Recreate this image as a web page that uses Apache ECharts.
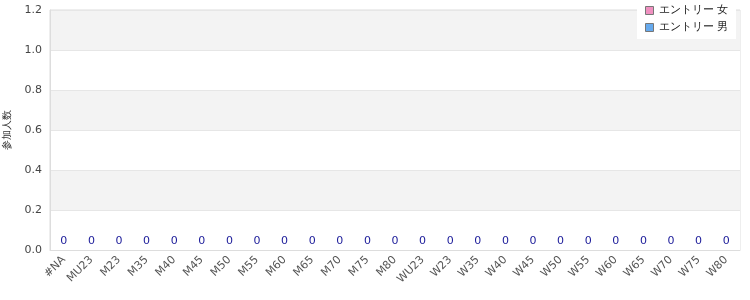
<!DOCTYPE html>
<html><head><meta charset="utf-8">
<script src="https://cdn.jsdelivr.net/npm/echarts@6/dist/echarts.min.js"></script>
<style>html,body{margin:0;padding:0;background:#fff}#c{width:750px;height:300px}</style>
</head><body><div id="c"></div>
<script>
const categories = ['#NA','MU23','M23','M35','M40','M45','M50','M55','M60','M65','M70','M75','M80','WU23','W23','W35','W40','W45','W50','W55','W60','W65','W70','W75','W80'];
const seriesNames = ['エントリー 女','エントリー 男'];
const valuesA = [0,0,0,0,0,0,0,0,0,0,0,0,0,0,0,0,0,0,0,0,0,0,0,0,0];
const valuesB = [0,0,0,0,0,0,0,0,0,0,0,0,0,0,0,0,0,0,0,0,0,0,0,0,0];
const yTicks = [0, 1.2, 0.2];
const yName = '参加人数';
const seriesColors = ['#f090c0','#66aaee'];

const chart = echarts.init(document.getElementById('c'), null, {renderer:'canvas'});
const font = 'DejaVu Sans, sans-serif';
chart.setOption({
  animation:false,
  grid:{left:50,right:10,top:10,bottom:50,containLabel:false,outerBoundsMode:'none',show:true,borderColor:'#ddd',borderWidth:1,backgroundColor:'transparent'},
  legend:{
    right:14, top:2, orient:'vertical', itemWidth:8, itemHeight:8, itemGap:6,
    backgroundColor:'#fff', padding:[3,8,6,8],
    textStyle:{fontSize:11,color:'#222',fontFamily:font},
    data:seriesNames.map((n,i)=>({name:n,icon:'rect',itemStyle:{color:seriesColors[i],borderColor:'#777',borderWidth:1}}))
  },
  xAxis:{
    type:'category', data:categories,
    axisLine:{show:true,lineStyle:{color:'#ddd'}}, axisTick:{show:false},
    axisLabel:{rotate:45,fontSize:11,color:'#555',interval:0,fontFamily:font,margin:8}
  },
  yAxis:{
    type:'value', min:yTicks[0], max:yTicks[1], interval:yTicks[2],
    name:yName, nameLocation:'middle', nameGap:38, nameRotate:90,
    nameTextStyle:{fontSize:10,color:'#333',fontFamily:font},
    axisLine:{show:true,lineStyle:{color:'#ddd'}}, axisTick:{show:false},
    axisLabel:{fontSize:11,color:'#444',fontFamily:font,formatter:v=>v.toFixed(1),margin:8},
    splitLine:{show:true,lineStyle:{color:'#e6e6e6'}},
    splitArea:{show:true,areaStyle:{color:['#ffffff','#f3f3f3']}}
  },
  series:[
    {name:seriesNames[0],type:'bar',stack:'s',data:valuesA,
     itemStyle:{color:seriesColors[0],borderWidth:0}},
    {name:seriesNames[1],type:'bar',stack:'s',data:valuesB,
     itemStyle:{color:seriesColors[1],borderWidth:0},
     label:{show:true,position:'top',color:'#1a1a99',fontSize:11,fontFamily:font,distance:3}}
  ]
});
</script></body></html>
